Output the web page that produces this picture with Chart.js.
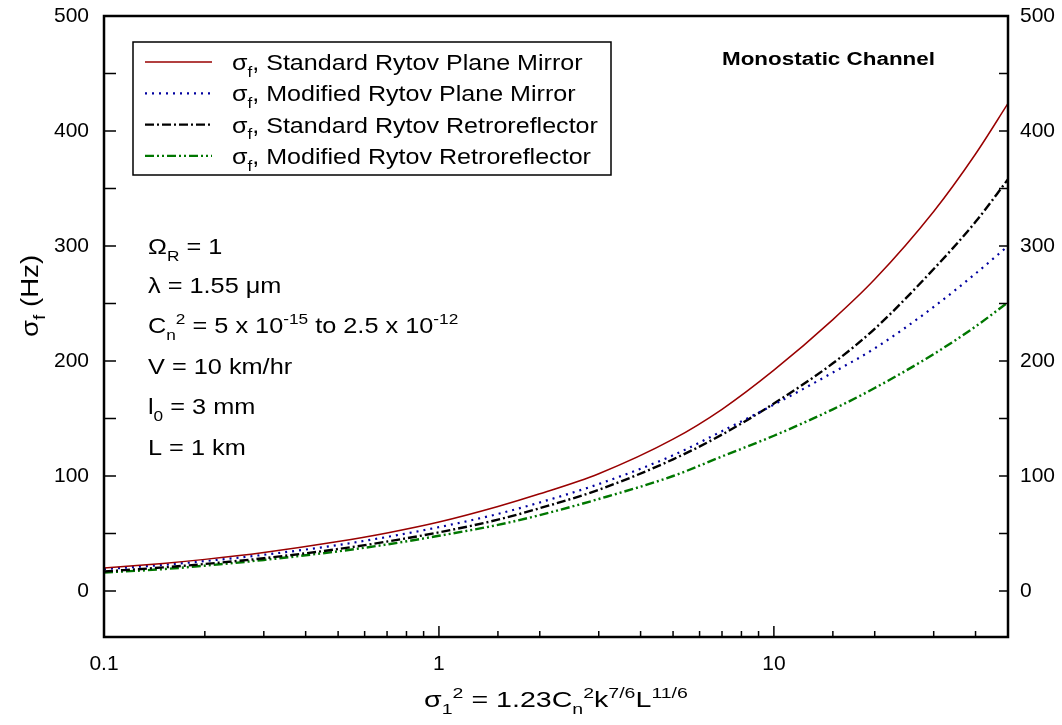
<!DOCTYPE html>
<html>
<head>
<meta charset="utf-8">
<script src="https://cdn.jsdelivr.net/npm/chart.js@4.4.1/dist/chart.umd.min.js"></script>
<style>
  html, body { margin: 0; padding: 0; background: #fff; }
  #wrap { width: 1062px; height: 725px; }
</style>
</head>
<body>
<div id="wrap"><canvas id="sigma-chart" width="1062" height="725"></canvas></div>
<script>
// values
const xValues = [0.1, 0.15, 0.2, 0.3, 0.5, 0.7, 1, 1.5, 2, 3, 5, 7, 10, 15, 20, 30, 40, 50];
const standardMirror = [20, 24, 27.5, 33.5, 43, 50.5, 60, 73.5, 84.5, 102, 132, 158, 192, 236, 271, 330, 380, 424];
const modifiedMirror = [19, 22.7, 26, 31.5, 40, 47, 55.5, 67, 77, 93, 118, 139, 162, 190, 211, 247, 276, 300];
const standardRetro = [17, 20.5, 23.5, 28.5, 36.5, 43, 51, 62, 72, 88, 114.5, 136, 163, 198, 228, 280, 321, 358];
const modifiedRetro = [16, 19, 22, 27, 34.5, 40.5, 48, 57.5, 66, 80, 100, 117, 135, 158, 176.5, 206, 230, 251];

const seriesNames = [
  "Standard Rytov Plane Mirror",
  "Modified Rytov Plane Mirror",
  "Standard Rytov Retroreflector",
  "Modified Rytov Retroreflector",
];

const xTickValues = [0.1, 1, 10];
const xTickLabels = ["0.1", "1", "10"];
const yTickValues = [0, 100, 200, 300, 400, 500];

const notes = [
  [["\u03A9", ""], ["R", "sub"], [" = 1", ""]],
  [["\u03BB = 1.55 \u03BCm", ""]],
  [["C", ""], ["n", "sub"], ["2", "sup"], [" = 5 x 10", ""], ["-15", "sup"], [" to 2.5 x 10", ""], ["-12", "sup"]],
  [["V = 10 km/hr", ""]],
  [["l", ""], ["0", "sub"], [" = 3 mm", ""]],
  [["L = 1 km", ""]],
];

const FONT = "'Liberation Sans', Arial, sans-serif";

function pts(ys) {
  return xValues.map((x, i) => ({ x: x, y: ys[i] }));
}

function richText(ctx, parts, x, y, size, align, sx) {
  const small = Math.round(size * 0.68);
  const fontFor = (k) => (k ? small : size) + "px " + FONT;
  let w = 0;
  parts.forEach(([t, k]) => {
    ctx.font = fontFor(k);
    w += ctx.measureText(t).width;
  });
  ctx.save();
  ctx.translate(x, y);
  ctx.scale(sx, 1);
  ctx.textAlign = "left";
  ctx.textBaseline = "alphabetic";
  ctx.fillStyle = "#000";
  let cx = align === "center" ? -w / 2 : 0;
  parts.forEach(([t, k]) => {
    ctx.font = fontFor(k);
    const dy = k === "sub" ? size * 0.3 : k === "sup" ? -size * 0.42 : 0;
    ctx.fillText(t, cx, dy);
    cx += ctx.measureText(t).width;
  });
  ctx.restore();
}

const decorations = {
  id: "decorations",
  beforeDraw(chart) {
    const ctx = chart.ctx;
    ctx.save();
    ctx.fillStyle = "#fff";
    ctx.fillRect(0, 0, chart.width, chart.height);
    ctx.restore();
  },
  afterDraw(chart) {
    const ctx = chart.ctx;
    const a = chart.chartArea;
    const xs = chart.scales.x;
    const ys = chart.scales.y;
    ctx.save();
    ctx.strokeStyle = "#000";

    // ticks pointing inwards
    ctx.lineWidth = 1.5;
    ys.ticks.forEach((t) => {
      const py = ys.getPixelForValue(t.value);
      ctx.beginPath();
      ctx.moveTo(a.left, py);
      ctx.lineTo(a.left + 12, py);
      ctx.moveTo(a.right, py);
      ctx.lineTo(a.right - 9, py);
      ctx.stroke();
    });
    xs.ticks.forEach((t) => {
      const px = xs.getPixelForValue(t.value);
      const lg = Math.log10(t.value);
      const major = Math.abs(lg - Math.round(lg)) < 1e-6;
      ctx.beginPath();
      ctx.moveTo(px, a.bottom);
      ctx.lineTo(px, a.bottom - (major ? 11 : 6));
      ctx.stroke();
    });

    // frame
    ctx.lineWidth = 2.5;
    ctx.strokeRect(a.left, a.top, a.right - a.left, a.bottom - a.top);

    // legend
    ctx.lineWidth = 1.5;
    ctx.strokeRect(133, 42, 478, 133);
    chart.data.datasets.forEach((ds, i) => {
      const cy = 62 + i * 31.3;
      ctx.save();
      ctx.strokeStyle = ds.borderColor;
      ctx.lineWidth = ds.borderWidth;
      ctx.setLineDash(ds.borderDash || []);
      ctx.beginPath();
      ctx.moveTo(145, cy);
      ctx.lineTo(212, cy);
      ctx.stroke();
      ctx.restore();
      richText(ctx, [["\u03C3", ""], ["f", "sub"], [", " + ds.label, ""]], 232, cy + 8, 22, "left", 1.14);
    });

    // parameter notes
    const noteY = [246, 285, 325, 366, 406, 447];
    notes.forEach((parts, i) => richText(ctx, parts, 148, noteY[i] + 8, 22, "left", 1.15));

    // title in the corner
    ctx.font = "bold 18px " + FONT;
    ctx.fillStyle = "#000";
    ctx.textBaseline = "middle";
    ctx.textAlign = "left";
    const tw = ctx.measureText("Monostatic Channel").width;
    ctx.save();
    ctx.translate(722, 60);
    ctx.scale(213 / tw, 1);
    ctx.fillText("Monostatic Channel", 0, 0);
    ctx.restore();

    // axis titles
    richText(ctx, [["\u03C3", ""], ["1", "sub"], ["2", "sup"], [" = 1.23C", ""], ["n", "sub"], ["2", "sup"],
      ["k", ""], ["7/6", "sup"], ["L", ""], ["11/6", "sup"]], (a.left + a.right) / 2, 707, 22, "center", 1.3);
    ctx.save();
    ctx.translate(30, 296);
    ctx.rotate(-Math.PI / 2);
    richText(ctx, [["\u03C3", ""], ["f", "sub"], [" (Hz)", ""]], 0, 8, 23, "center", 1.2);
    ctx.restore();

    ctx.restore();
  },
};

const yTicks = (pad) => ({
  stepSize: 50,
  includeBounds: false,
  padding: pad,
  color: "#000",
  font: { family: FONT, size: 21 },
  callback: (v) => (yTickValues.includes(v) ? String(v) : ""),
});

const fitY = (w) => (s) => {
  s.width = w;
  s.paddingTop = 0;
  s.paddingBottom = 0;
};

new Chart(document.getElementById("sigma-chart"), {
  type: "line",
  data: {
    datasets: [
      {
        label: seriesNames[0],
        data: pts(standardMirror),
        borderColor: "#990000",
        borderWidth: 1.5,
      },
      {
        label: seriesNames[1],
        data: pts(modifiedMirror),
        borderColor: "#0000a0",
        borderWidth: 2.2,
        borderDash: [2, 5],
      },
      {
        label: seriesNames[2],
        data: pts(standardRetro),
        borderColor: "#000000",
        borderWidth: 2.4,
        borderDash: [9, 3, 2, 3],
      },
      {
        label: seriesNames[3],
        data: pts(modifiedRetro),
        borderColor: "#007700",
        borderWidth: 2.4,
        borderDash: [9, 3, 2, 3, 2, 3],
      },
    ],
  },
  options: {
    responsive: false,
    animation: false,
    devicePixelRatio: 1,
    layout: { padding: { top: 16, left: 0, right: 0, bottom: 0 } },
    elements: {
      point: { radius: 0 },
      line: { cubicInterpolationMode: "monotone", fill: false },
    },
    plugins: { legend: { display: false }, tooltip: { enabled: false } },
    scales: {
      x: {
        type: "logarithmic",
        position: "bottom",
        min: 0.1,
        max: 50,
        grid: { display: false },
        border: { display: false },
        ticks: {
          autoSkip: false,
          maxRotation: 0,
          padding: 7,
          color: "#000",
          font: { family: FONT, size: 21 },
          callback: (v) => {
            const i = xTickValues.findIndex((t) => Math.abs(t - v) < 1e-9);
            return i >= 0 ? xTickLabels[i] : "";
          },
        },
        afterFit: (s) => { s.height = 88; },
      },
      y: {
        type: "linear",
        position: "left",
        min: -40,
        max: 500,
        grid: { display: false },
        border: { display: false },
        ticks: yTicks(7),
        afterFit: fitY(104),
      },
      y2: {
        type: "linear",
        position: "right",
        min: -40,
        max: 500,
        grid: { display: false },
        border: { display: false },
        ticks: yTicks(4),
        afterFit: fitY(54),
      },
    },
  },
  plugins: [decorations],
});
</script>
</body>
</html>
